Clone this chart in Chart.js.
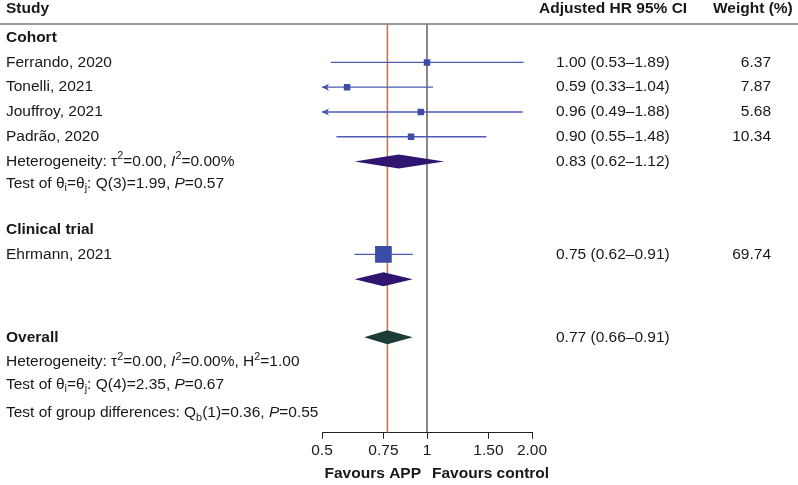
<!DOCTYPE html>
<html lang="en">
<head>
  <meta charset="UTF-8" />
  <title>Forest plot – APP vs control</title>
  <script src="https://cdn.jsdelivr.net/npm/chart.js"></script>
  <style>
    body { margin: 0; background: #fff; }
    #wrap { width: 798px; height: 485px; }
  </style>
</head>
<body>
  <div id="wrap"><canvas id="forest"></canvas></div>

  <script>
    // individual studies
    const studies = ['Ferrando, 2020', 'Tonelli, 2021', 'Jouffroy, 2021', 'Padrão, 2020', 'Ehrmann, 2021'];
    const hr = [1.00, 0.59, 0.96, 0.90, 0.75];
    const lower = [0.53, 0.33, 0.49, 0.55, 0.62];
    const upper = [1.89, 1.04, 1.88, 1.48, 0.91];
    const weights = [6.37, 7.87, 5.68, 10.34, 69.74];
    const studyRows = [1.55, 2.55, 3.55, 4.55, 9.3];

    // pooled estimates (cohort subgroup, clinical trial subgroup, overall)
    const pooledHr = [0.83, 0.75, 0.77];
    const pooledLower = [0.62, 0.62, 0.66];
    const pooledUpper = [1.12, 0.91, 0.91];
    const pooledRows = [5.55, 10.3, 12.65];
    const pooledShowText = [true, false, true];

    // left column labels ( ^{} sup, _{} sub, *..* italic )
    const labelText = [
      'Cohort',
      'Heterogeneity: τ^{2}=0.00, *I*^{2}=0.00%',
      'Test of θ_{i}=θ_{j}: Q(3)=1.99, *P*=0.57',
      'Clinical trial',
      'Overall',
      'Heterogeneity: τ^{2}=0.00, *I*^{2}=0.00%, H^{2}=1.00',
      'Test of θ_{i}=θ_{j}: Q(4)=2.35, *P*=0.67',
      'Test of group differences: Q_{b}(1)=0.36, *P*=0.55'
    ];
    const labelRows = [0.55, 5.55, 6.45, 8.3, 12.65, 13.65, 14.55, 15.7];
    const labelBold = [true, false, false, true, true, false, false, false];

    const xTicks = [0.5, 0.75, 1, 1.5, 2];
    const xTickLabels = ['0.5', '0.75', '1', '1.50', '2.00'];
    const refLines = [0.77, 1];

    const X_MIN = 0.5, X_MAX = 2;
    const FONT = '"Liberation Sans", Arial, Helvetica, sans-serif';
    const FS = 15.5;
    const TEXT = '#181818';
    const SQUARE = '#3d4ca6';
    const CI_LINE = '#4d5bb4';
    const DIAMONDS = ['#2f1470', '#2f1470', '#1d3b38'];
    const REF_COLORS = ['#b8744a', '#3a3a3a'];

    function richText(ctx, str, x, y, bold) {
      const parts = str.split(/(\^\{[^}]*\}|_\{[^}]*\}|\*[^*]+\*)/).filter(Boolean);
      const w = bold ? 'bold ' : '';
      let cx = x;
      parts.forEach(p => {
        let txt = p, fs = FS, dy = 0, it = '';
        if (p.startsWith('^{')) { txt = p.slice(2, -1); fs = FS * 0.7; dy = -FS * 0.33; }
        else if (p.startsWith('_{')) { txt = p.slice(2, -1); fs = FS * 0.7; dy = FS * 0.3; }
        else if (p.startsWith('*')) { txt = p.slice(1, -1); it = 'italic '; }
        ctx.font = `${it}${w}${fs}px ${FONT}`;
        ctx.fillText(txt, cx, y + dy);
        cx += ctx.measureText(txt).width;
      });
    }

    const fmt = v => v.toFixed(2);
    const ciText = (e, l, u) => `${fmt(e)} (${fmt(l)}–${fmt(u)})`;

    const forestDecor = {
      id: 'forestDecor',
      afterDatasetsDraw(chart) {
        const { ctx, scales: { x, y } } = chart;
        ctx.save();
        // pooled diamonds, drawn over the reference lines
        pooledHr.forEach((e, i) => {
          const cy = y.getPixelForValue(pooledRows[i]);
          const h = 7;
          ctx.fillStyle = DIAMONDS[i];
          ctx.beginPath();
          ctx.moveTo(x.getPixelForValue(pooledLower[i]), cy);
          ctx.lineTo(x.getPixelForValue(e), cy - h);
          ctx.lineTo(x.getPixelForValue(pooledUpper[i]), cy);
          ctx.lineTo(x.getPixelForValue(e), cy + h);
          ctx.closePath();
          ctx.fill();
        });
        // arrows where the CI runs past the axis minimum
        ctx.fillStyle = SQUARE;
        lower.forEach((l, i) => {
          if (l >= X_MIN) return;
          const tip = x.getPixelForValue(X_MIN);
          const cy = y.getPixelForValue(studyRows[i]);
          ctx.beginPath();
          ctx.moveTo(tip, cy);
          ctx.lineTo(tip + 7, cy - 3.5);
          ctx.lineTo(tip + 5, cy);
          ctx.lineTo(tip + 7, cy + 3.5);
          ctx.closePath();
          ctx.fill();
        });
        ctx.restore();
      },
      afterDraw(chart) {
        const { ctx, chartArea, scales: { x, y } } = chart;
        ctx.save();
        // header rule
        ctx.strokeStyle = '#7a7a7a';
        ctx.lineWidth = 1.5;
        ctx.beginPath();
        ctx.moveTo(0, chartArea.top);
        ctx.lineTo(chart.width, chartArea.top);
        ctx.stroke();

        ctx.fillStyle = TEXT;
        ctx.textBaseline = 'middle';
        ctx.textAlign = 'left';
        const headY = chartArea.top - 15.5;
        ctx.font = `bold ${FS}px ${FONT}`;
        ctx.fillText('Study', 6, headY);
        ctx.fillText('Adjusted HR 95% CI', 539, headY);
        ctx.fillText('Weight (%)', 713, headY);

        labelText.forEach((t, i) => richText(ctx, t, 6, y.getPixelForValue(labelRows[i]), labelBold[i]));

        ctx.font = `${FS}px ${FONT}`;
        studies.forEach((s, i) => {
          const cy = y.getPixelForValue(studyRows[i]);
          ctx.textAlign = 'left';
          ctx.fillText(s, 6, cy);
          ctx.fillText(ciText(hr[i], lower[i], upper[i]), 556, cy);
          ctx.textAlign = 'right';
          ctx.fillText(fmt(weights[i]), 771, cy);
        });
        ctx.textAlign = 'left';
        pooledHr.forEach((e, i) => {
          if (!pooledShowText[i]) return;
          ctx.fillText(ciText(e, pooledLower[i], pooledUpper[i]), 556, y.getPixelForValue(pooledRows[i]));
        });

        // favours labels
        const one = x.getPixelForValue(1);
        const fy = chartArea.bottom + 41.5;
        ctx.font = `bold ${FS}px ${FONT}`;
        ctx.textAlign = 'right';
        ctx.fillText('Favours APP', one - 6, fy);
        ctx.textAlign = 'left';
        ctx.fillText('Favours control', one + 5, fy);
        ctx.restore();
      }
    };

    const datasets = [];
    refLines.forEach((v, i) => datasets.push({
      data: [{ x: v, y: 0 }, { x: v, y: 16.5 }],
      showLine: true, borderColor: REF_COLORS[i], borderWidth: i === 0 ? 1.5 : 1.2,
      pointRadius: 0, order: 3
    }));
    studies.forEach((s, i) => datasets.push({
      data: [
        { x: Math.max(lower[i], X_MIN), y: studyRows[i] },
        { x: Math.min(upper[i], X_MAX), y: studyRows[i] }
      ],
      showLine: true, borderColor: CI_LINE, borderWidth: 1.4,
      pointRadius: 0, order: 2
    }));
    datasets.push({
      data: hr.map((v, i) => ({ x: v, y: studyRows[i] })),
      pointStyle: 'rect',
      pointRadius: weights.map(w => Math.max(6.5, 2 * Math.sqrt(w)) / (2 * Math.SQRT1_2)),
      backgroundColor: SQUARE, borderColor: SQUARE, borderWidth: 0,
      order: 1
    });

    new Chart(document.getElementById('forest'), {
      type: 'scatter',
      data: { datasets },
      options: {
        responsive: true,
        maintainAspectRatio: false,
        animation: false,
        layout: { padding: { left: 322, right: 266, top: 24, bottom: 21.7 } },
        plugins: { legend: { display: false }, tooltip: { enabled: false } },
        scales: {
          x: {
            type: 'logarithmic',
            min: X_MIN,
            max: X_MAX,
            afterBuildTicks: s => { s.ticks = xTicks.map(v => ({ value: v })); },
            ticks: {
              callback: (v, i) => xTickLabels[i],
              autoSkip: false,
              maxRotation: 0,
              padding: 3,
              color: TEXT,
              font: { family: FONT, size: FS }
            },
            grid: { drawOnChartArea: false, tickLength: 6, color: '#222' },
            border: { color: '#222', width: 1 }
          },
          y: { type: 'linear', min: 0, max: 16.5, reverse: true, display: false }
        }
      },
      plugins: [forestDecor]
    });
  </script>
</body>
</html>
